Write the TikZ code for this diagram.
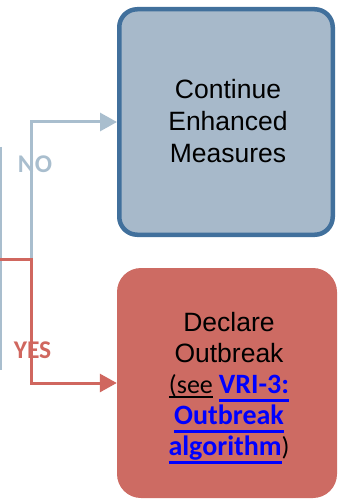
\documentclass[tikz,border=0pt]{standalone}
\usepackage{fontspec}
\setmainfont{Liberation Sans}
\newfontfamily\calib{Carlito}
\usetikzlibrary{arrows.meta}
\definecolor{topfill}{HTML}{A7B9CA}
\definecolor{topdraw}{HTML}{41709C}
\definecolor{nocol}{HTML}{A9BECE}
\definecolor{redfill}{HTML}{CD6B63}
\definecolor{redline}{HTML}{D0675F}
\definecolor{linkblue}{HTML}{0000FF}
\newcommand{\blueul}[1]{\sbox0{#1}\rlap{\color{linkblue}\rule[-9pt]{\wd0}{3pt}}\usebox0}
\newcommand{\blackul}[1]{\sbox0{#1}\rlap{\color{black}\rule[-5pt]{\wd0}{2.4pt}}\usebox0}
\newcommand{\calsize}{\calib\fontsize{26}{31}\selectfont}
\newcommand{\linkfont}{\calib\bfseries\fontsize{28}{31}\selectfont\color{linkblue}}
\tikzset{
  boxtop/.style={draw=topdraw, fill=topfill, line width=4.5pt, rounded corners=18pt,
    minimum width=213.5pt, minimum height=225.5pt, inner sep=0pt},
  boxred/.style={draw=none, fill=redfill, rounded corners=24pt,
    minimum width=220pt, minimum height=230pt, inner sep=0pt},
  boxtext/.style={align=center, inner sep=0pt, anchor=north, text=black},
  noline/.style={draw=nocol, line width=3pt, -{Triangle[length=17pt,width=18pt]}},
  yesline/.style={draw=redline, line width=3pt, -{Triangle[length=17pt,width=18pt]}},
  lbl/.style={inner sep=0pt, anchor=base, font=\calib\bfseries\fontsize{25.5}{28}\selectfont},
}
\begin{document}
\begin{tikzpicture}[x=1pt,y=1pt]
\useasboundingbox (0,0) rectangle (338,-502);
% partial shape edge at left
\draw[draw=nocol, line width=1.6pt] (0.8,-147) -- (0.8,-370);
% boxes
\node[boxtop] (topbox) at (226,-122) {};
\node[boxred] (botbox) at (227,-383) {};
\node[boxtext, font=\fontsize{26.5}{32}\selectfont] (toptext) at (228,-79) {Continue\\Enhanced\\Measures};
\node[boxtext, font=\fontsize{26.5}{31}\selectfont] (bottext) at (229,-312) {Declare\\Outbreak\\
  {\calsize\blackul{(see}~{\linkfont\blueul{VRI-3:}}}\\
  {\linkfont\blueul{Outbreak}}\\
  {\calsize{\linkfont\blueul{algorithm}})}};
% connectors
\coordinate (src) at (0,-259);
\coordinate (split) at (31.5,-259);
\draw[noline] (split) |- (topbox.west);
\draw[yesline] (src) -- (split) |- (botbox.west);
% labels
\node[lbl, text=nocol] (nolbl) at (35,-173) {NO};
\node[lbl, text=redline] (yeslbl) at (32.5,-358) {YES};
\end{tikzpicture}
\end{document}
